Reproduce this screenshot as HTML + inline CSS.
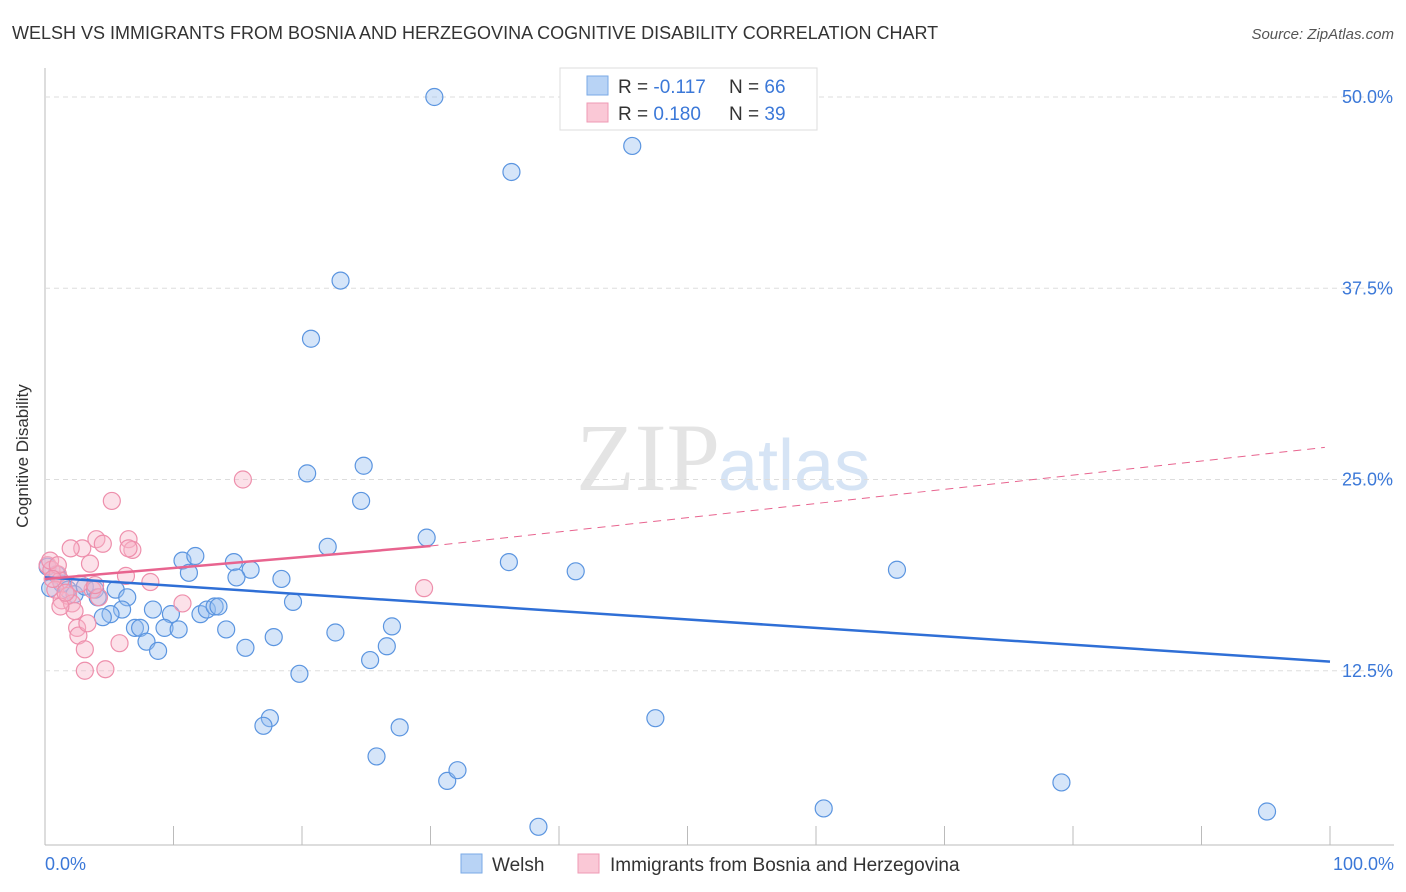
<!DOCTYPE html>
<html><head><meta charset="utf-8"><style>
body{margin:0;background:#fff;font-family:"Liberation Sans",sans-serif;}
svg{display:block}
</style></head><body>
<svg id="chart" width="1406" height="892" xmlns="http://www.w3.org/2000/svg">
<text x="12" y="39" font-size="18" fill="#333">WELSH VS IMMIGRANTS FROM BOSNIA AND HERZEGOVINA COGNITIVE DISABILITY CORRELATION CHART</text>
<text x="1394" y="39" font-size="15" fill="#555" font-style="italic" text-anchor="end">Source: ZipAtlas.com</text>
<text x="720" y="490" font-size="96" fill="#e4e4e4" text-anchor="end" font-family="Liberation Serif,serif">ZIP</text>
<text x="718" y="490" font-size="72" fill="#d6e4f5">atlas</text>
<line x1="45" y1="68" x2="45" y2="845" stroke="#bbb"/>
<line x1="45" y1="845" x2="1394" y2="845" stroke="#bbb"/>
<text x="28" y="456" font-size="17" fill="#333" text-anchor="middle" transform="rotate(-90 28 456)">Cognitive Disability</text>
<g id="grid"></g><g id="xt"></g>
<g id="pts"></g><g id="lines"></g>
<g>
<rect x="560" y="68" width="257" height="62" fill="#fff" stroke="#ddd"/>
<rect x="587" y="76" width="21" height="19" fill="#b8d3f5" stroke="#7aa9e6"/>
<rect x="587" y="103" width="21" height="19" fill="#fac8d6" stroke="#ef9ab4"/>
<text x="618" y="93" font-size="19" fill="#333">R = <tspan fill="#3b78d8">-0.117</tspan></text>
<text x="729" y="93" font-size="19" fill="#333">N = <tspan fill="#3b78d8">66</tspan></text>
<text x="618" y="120" font-size="19" fill="#333">R = <tspan fill="#3b78d8"> 0.180</tspan></text>
<text x="729" y="120" font-size="19" fill="#333">N = <tspan fill="#3b78d8">39</tspan></text>
</g>
<text x="45" y="870" font-size="18" fill="#3b78d8">0.0%</text>
<text x="1394" y="870" font-size="18" fill="#3b78d8" text-anchor="end">100.0%</text>
<g>
<rect x="461" y="854" width="21" height="19" fill="#b8d3f5" stroke="#7aa9e6"/>
<text x="492" y="871" font-size="19" fill="#333">Welsh</text>
<rect x="578" y="854" width="21" height="19" fill="#fac8d6" stroke="#ef9ab4"/>
<text x="610" y="871" font-size="19" fill="#333">Immigrants from Bosnia and Herzegovina</text>
</g>
</svg>
<script>
const yTicks=[12.5,25,37.5,50];
const yTickLabels=["12.5%","25.0%","37.5%","50.0%"];
const welshX=[30.3,45.7,36.3,23.0,20.7,24.8,20.4,24.6,29.7,22.0,36.1,41.3,66.3,10.7,11.7,14.7,16.0,11.2,14.9,18.4,0.2,0.9,1.3,0.4,1.8,2.3,3.1,3.9,5.5,6.4,4.1,6.0,8.4,5.1,4.5,9.8,12.1,12.6,13.2,13.5,19.3,7.0,7.4,9.3,10.4,14.1,22.6,27.0,7.9,8.8,15.6,17.8,26.6,25.3,19.8,17.5,17.0,27.6,47.5,25.8,31.3,32.1,38.4,60.6,79.1,95.1];
const welshY=[50.0,46.8,45.1,38.0,34.2,25.9,25.4,23.6,21.2,20.6,19.6,19.0,19.1,19.7,20.0,19.6,19.1,18.9,18.6,18.5,19.3,18.8,18.2,17.9,17.8,17.5,18.0,17.8,17.8,17.3,17.3,16.5,16.5,16.2,16.0,16.2,16.2,16.5,16.7,16.7,17.0,15.3,15.3,15.3,15.2,15.2,15.0,15.4,14.4,13.8,14.0,14.7,14.1,13.2,12.3,9.4,8.9,8.8,9.4,6.9,5.3,6.0,2.3,3.5,5.2,3.3];
const bosX=[0.2,0.5,1.0,1.2,0.8,1.3,1.8,2.1,2.3,2.5,2.6,3.1,3.1,4.7,1.2,3.5,2.9,2.0,4.0,4.5,6.5,6.8,6.5,3.7,4.2,5.2,15.4,6.3,8.2,10.7,5.8,3.3,29.5,2.7,1.6,0.4,1.0,0.6,3.9];
const bosY=[19.4,19.1,18.8,18.4,17.8,17.1,17.4,16.9,16.4,15.3,14.8,13.9,12.5,12.6,16.7,19.5,20.5,20.5,21.1,20.8,21.1,20.4,20.5,17.8,17.3,23.6,25.0,18.7,18.3,16.9,14.3,15.6,17.9,18.2,17.6,19.7,19.4,18.5,18.1];
const welshTrend=[18.6,13.1];
const bosTrendStart=18.5, bosTrendEnd30=20.65, bosTrendEnd100=27.1;
const NS="http://www.w3.org/2000/svg";
const X=v=>45+v*12.85, Y=v=>862-v*15.3;
function mk(tag,at,parent){const e=document.createElementNS(NS,tag);for(const k in at)e.setAttribute(k,at[k]);parent.appendChild(e);return e;}
const grid=document.getElementById('grid');
yTicks.forEach((t,i)=>{
 const l=mk('line',{x1:45,x2:1394,y1:Y(t),y2:Y(t),stroke:'#ddd','stroke-dasharray':'5,4'},grid);
 
 
 const tx=mk('text',{x:1393,y:Y(t)+6,'font-size':18,fill:'#3b78d8','text-anchor':'end'},grid);
 tx.textContent=yTickLabels[i];
 
 
});
const xt=document.getElementById('xt');
for(let i=1;i<=10;i++){
 const l=mk('line',{x1:X(i*10),x2:X(i*10),y1:826,y2:845,stroke:'#bbb'},xt);
 
 
}
const pts=document.getElementById('pts');
welshX.forEach((v,i)=>{
 const c=mk('circle',{cx:X(v),cy:Y(welshY[i]),r:8.5,fill:'rgba(150,190,240,0.4)',stroke:'#5b95e0','stroke-width':1.2},pts);
 
 
});
bosX.forEach((v,i)=>{
 const c=mk('circle',{cx:X(v),cy:Y(bosY[i]),r:8.5,fill:'rgba(248,180,200,0.4)',stroke:'#ee8fac','stroke-width':1.2},pts);
 
 
});
const lines=document.getElementById('lines');
const wl=mk('line',{x1:X(0),y1:Y(welshTrend[0]),x2:X(100),y2:Y(welshTrend[1]),stroke:'#2f6fd6','stroke-width':2.5},lines);


const bl=mk('line',{x1:X(0),y1:Y(bosTrendStart),x2:X(30),y2:Y(bosTrendEnd30),stroke:'#e8648f','stroke-width':2.5},lines);


const bd=mk('line',{x1:X(30),y1:Y(bosTrendEnd30),x2:X(99.6),y2:Y(bosTrendEnd100),stroke:'#e8648f','stroke-width':1,'stroke-dasharray':'8,6'},lines);


</script>
</body></html>
